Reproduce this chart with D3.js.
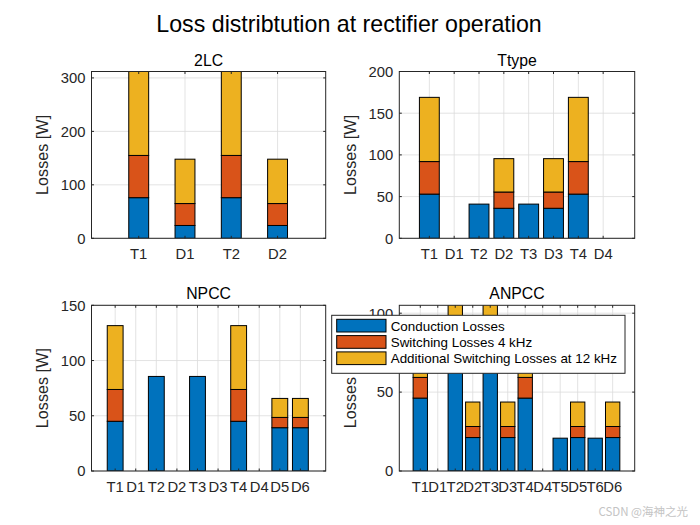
<!DOCTYPE html>
<html lang="en">
<head>
    <meta charset="utf-8">
    <script src="https://d3js.org/d3.v7.min.js"></script>
    <style>
        body { margin: 0; background: #fff; }
        text { font-family: Arial, "Liberation Sans", Helvetica, sans-serif; fill: #262626; }
    </style>
</head>
<body>
<svg width="700" height="525"></svg>

<script>

// series names + colours (MATLAB default order)
var seriesNames = ["Conduction Losses", "Switching Losses 4 kHz", "Additional Switching Losses at 12 kHz"];
var seriesColors = ["#0072BD", "#D95319", "#EDB120"];

// 2LC
var cats2LC = ["T1", "D1", "T2", "D2"];
var cond2LC = [76, 24, 76, 24];
var sw2LC   = [79, 41, 79, 41];
var add2LC  = [157, 83, 157, 83];

// Ttype
var catsT = ["T1", "D1", "T2", "D2", "T3", "D3", "T4", "D4"];
var condT = [53, 0, 41, 36, 41, 36, 53, 0];
var swT   = [39, 0, 0, 19.5, 0, 19.5, 39, 0];
var addT  = [77, 0, 0, 40, 0, 40, 77, 0];

// NPCC
var catsN = ["T1", "D1", "T2", "D2", "T3", "D3", "T4", "D4", "D5", "D6"];
var condN = [45, 0, 85.6, 0, 85.6, 0, 45, 0, 39.2, 39.2];
var swN   = [28.8, 0, 0, 0, 0, 0, 28.8, 0, 9.3, 9.3];
var addN  = [57.8, 0, 0, 0, 0, 0, 57.8, 0, 17.2, 17.2];

// ANPCC
var catsA = ["T1", "D1", "T2", "D2", "T3", "D3", "T4", "D4", "T5", "D5", "T6", "D6"];
var condA = [46.2, 0, 72, 21.2, 72, 21.2, 46.2, 0, 20.8, 21.2, 20.8, 21.2];
var swA   = [13.1, 0, 10, 7, 10, 7, 13.1, 0, 0, 7, 0, 7];
var addA  = [25, 0, 30, 15.5, 30, 15.5, 25, 0, 0, 15.5, 0, 15.5];

var svg = d3.select("svg");

// main title
svg.append("text")
    .attr("x", 349).attr("y", 32)
    .attr("text-anchor", "middle")
    .style("font-size", "23.2px")
    .style("fill", "#000")
    .text("Loss distribtution at rectifier operation");

var panels = [
    { title: "2LC",   cats: cats2LC, series: [cond2LC, sw2LC, add2LC], ymax: 312, yticks: [0, 100, 200, 300],
      xlim: [-0.02, 5.04], barW: 0.43, box: [91.5, 71.5, 325.7, 238.3] },
    { title: "Ttype", cats: catsT, series: [condT, swT, addT], ymax: 200, yticks: [0, 50, 100, 150, 200],
      xlim: [-0.21, 9.27], barW: 0.8, box: [399.3, 71.5, 634.7, 238.3] },
    { title: "NPCC",  cats: catsN, series: [condN, swN, addN], ymax: 150, yticks: [0, 50, 100, 150],
      xlim: [-0.15, 11.23], barW: 0.77, box: [91.5, 305.3, 325.7, 471] },
    { title: "ANPCC", cats: catsA, series: [condA, swA, addA], ymax: 105, yticks: [0, 50, 100],
      xlim: [-0.2, 13.26], barW: 0.82, box: [399.3, 305.3, 634.7, 471] }
];

panels.forEach(function(p, pi) {
    var x0 = p.box[0], y0 = p.box[1], x1 = p.box[2], y1 = p.box[3];
    var x = d3.scaleLinear().domain(p.xlim).range([x0, x1]);
    var y = d3.scaleLinear().domain([0, p.ymax]).range([y1, y0]);
    var g = svg.append("g");

    g.append("clipPath").attr("id", "clip" + pi)
        .append("rect").attr("x", x0).attr("y", y0).attr("width", x1 - x0).attr("height", y1 - y0);

    // grid
    g.selectAll(".gx").data(p.cats).enter().append("line")
        .attr("x1", function(d, i) { return x(i + 1); })
        .attr("x2", function(d, i) { return x(i + 1); })
        .attr("y1", y0).attr("y2", y1)
        .attr("stroke", "#dcdcdc").attr("stroke-width", 0.8);
    g.selectAll(".gy").data(p.yticks).enter().append("line")
        .attr("x1", x0).attr("x2", x1)
        .attr("y1", function(d) { return y(d); })
        .attr("y2", function(d) { return y(d); })
        .attr("stroke", "#dcdcdc").attr("stroke-width", 0.8);

    // stacked bars
    var rows = p.cats.map(function(c, i) {
        var r = { cat: c, idx: i };
        p.series.forEach(function(s, k) { r["s" + k] = s[i]; });
        return r;
    });
    var stack = d3.stack().keys(["s0", "s1", "s2"])(rows);
    var bars = g.append("g").attr("clip-path", "url(#clip" + pi + ")");
    var bw = x(p.barW) - x(0);
    stack.forEach(function(layer, k) {
        bars.selectAll(".b" + k)
            .data(layer.filter(function(d) { return d[1] - d[0] > 0; }))
            .enter().append("rect")
            .attr("x", function(d) { return x(d.data.idx + 1) - bw / 2; })
            .attr("width", bw)
            .attr("y", function(d) { return y(d[1]); })
            .attr("height", function(d) { return y(d[0]) - y(d[1]); })
            .attr("fill", seriesColors[k])
            .attr("stroke", "#000").attr("stroke-width", 1);
    });

    // axes box
    g.append("rect").attr("x", x0).attr("y", y0).attr("width", x1 - x0).attr("height", y1 - y0)
        .attr("fill", "none").attr("stroke", "#262626").attr("stroke-width", 1);

    var tl = 2.5;
    // y ticks (left + right, inward)
    p.yticks.forEach(function(t) {
        g.append("line").attr("x1", x0).attr("x2", x0 + tl).attr("y1", y(t)).attr("y2", y(t)).attr("stroke", "#262626");
        g.append("line").attr("x1", x1).attr("x2", x1 - tl).attr("y1", y(t)).attr("y2", y(t)).attr("stroke", "#262626");
        g.append("text").attr("x", x0 - 6).attr("y", y(t)).attr("dy", "0.36em")
            .attr("text-anchor", "end").style("font-size", "14.8px").text(t);
    });
    // x ticks (bottom + top, inward)
    p.cats.forEach(function(c, i) {
        var xp = x(i + 1);
        g.append("line").attr("x1", xp).attr("x2", xp).attr("y1", y1).attr("y2", y1 - tl).attr("stroke", "#262626");
        g.append("line").attr("x1", xp).attr("x2", xp).attr("y1", y0).attr("y2", y0 + tl).attr("stroke", "#262626");
        g.append("text").attr("x", xp).attr("y", y1 + 20.5)
            .attr("text-anchor", "middle").style("font-size", "14.8px").text(c);
    });

    // subplot title
    g.append("text").attr("x", (x0 + x1) / 2).attr("y", y0 - 6)
        .attr("text-anchor", "middle").style("font-size", "15.8px").style("fill", "#000").text(p.title);

    // y label
    var lx = x0 - 43.5;
    g.append("text")
        .attr("transform", "translate(" + lx + "," + ((y0 + y1) / 2) + ") rotate(-90)")
        .attr("text-anchor", "middle").style("font-size", "16.2px").text("Losses [W]");
});

// legend (sits over ANPCC)
var lg = svg.append("g").attr("transform", "translate(331.7,315.3)");
lg.append("rect").attr("width", 293.3).attr("height", 58)
    .attr("fill", "#fff").attr("stroke", "#262626").attr("stroke-width", 1);
seriesNames.forEach(function(n, i) {
    var yy = 4 + i * 16.3;
    lg.append("rect").attr("x", 5).attr("y", yy).attr("width", 49.3).attr("height", 12.7)
        .attr("fill", seriesColors[i]).attr("stroke", "#000").attr("stroke-width", 1);
    lg.append("text").attr("x", 59).attr("y", yy + 6.4).attr("dy", "0.36em")
        .style("font-size", "13.4px").style("fill", "#000").text(n);
});

// watermark
svg.append("text").attr("x", 688).attr("y", 516).attr("text-anchor", "end")
    .style("font-family", "'Noto Sans CJK SC', sans-serif")
    .style("font-size", "11.5px").style("fill", "#c4c4c4")
    .text("CSDN @海神之光");

</script>
</body>
</html>
